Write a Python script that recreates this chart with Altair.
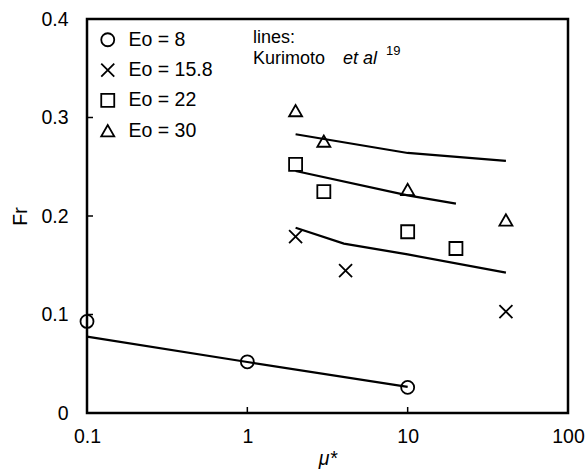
import altair as alt
import pandas as pd

FONT = "Liberation Sans"
FS = 19.5

series_names = ["Eo = 8", "Eo = 15.8", "Eo = 22", "Eo = 30"]
shape_range = ["circle", "M-1,-1L1,1M-1,1L1,-1", "square", "triangle-up"]

# measured data points
eo8_x = [0.1, 1, 10]
eo8_y = [0.093, 0.052, 0.026]
eo158_x = [2, 4.1, 41]
eo158_y = [0.179, 0.1445, 0.103]
eo22_x = [2, 3, 10, 20]
eo22_y = [0.2525, 0.2247, 0.184, 0.167]
eo30_x = [2, 3, 10, 41]
eo30_y = [0.307, 0.276, 0.227, 0.196]

# Kurimoto et al. lines
k8_x = [0.1, 1, 10]
k8_y = [0.0775, 0.0518, 0.0265]
k158_x = [2, 4, 10, 41]
k158_y = [0.188, 0.172, 0.161, 0.1425]
k22_x = [2, 10, 20]
k22_y = [0.2457, 0.221, 0.2125]
k30_x = [2, 10, 41]
k30_y = [0.283, 0.264, 0.256]

x_ticks = [0.1, 1, 10, 100]
y_ticks = [0, 0.1, 0.2, 0.3, 0.4]


def frame(xs, ys, name):
    return pd.DataFrame({"x": xs, "y": ys, "series": name})


points_df = pd.concat([
    frame(eo8_x, eo8_y, series_names[0]),
    frame(eo158_x, eo158_y, series_names[1]),
    frame(eo22_x, eo22_y, series_names[2]),
    frame(eo30_x, eo30_y, series_names[3]),
])
lines_df = pd.concat([
    frame(k8_x, k8_y, series_names[0]),
    frame(k158_x, k158_y, series_names[1]),
    frame(k22_x, k22_y, series_names[2]),
    frame(k30_x, k30_y, series_names[3]),
])

xscale = alt.Scale(type="log", domain=[0.1, 100])
yscale = alt.Scale(domain=[0, 0.4])

xaxis = alt.Axis(values=x_ticks, format="~g", title="μ*", titleFontStyle="italic",
                 labelPadding=14, titlePadding=4, labelFlush=False)
yaxis = alt.Axis(values=y_ticks, title="Fr", labelPadding=19, titlePadding=10,
                 labelFlush=False,
                 labelExpr="datum.value == 0 ? '0' : format(datum.value, '.1f')")

points = alt.Chart(points_df).mark_point(
    filled=False, color="black", strokeWidth=1.8, size=169, opacity=1
).encode(
    x=alt.X("x:Q", scale=xscale, axis=xaxis),
    y=alt.Y("y:Q", scale=yscale, axis=yaxis),
    shape=alt.Shape(
        "series:N",
        scale=alt.Scale(domain=series_names, range=shape_range),
        legend=alt.Legend(
            title=None, orient="none", legendX=11, legendY=11, padding=0,
            symbolSize=169, symbolStrokeColor="black", symbolFillColor="transparent",
            symbolStrokeWidth=1.8, symbolOpacity=1,
            labelFont=FONT, labelFontSize=FS, labelColor="black", labelOffset=11,
            rowPadding=9.3,
        ),
    ),
)

lines = alt.Chart(lines_df).mark_line(color="black", strokeWidth=2.2).encode(
    x=alt.X("x:Q", scale=xscale),
    y=alt.Y("y:Q", scale=yscale),
    detail="series:N",
)

ytick_rules = alt.Chart(pd.DataFrame({"y": y_ticks})).mark_rule(
    color="black", strokeWidth=1.5
).encode(y=alt.Y("y:Q", scale=yscale), x=alt.value(0), x2=alt.value(6))

xtick_rules = alt.Chart(pd.DataFrame({"x": x_ticks})).mark_rule(
    color="black", strokeWidth=1.5
).encode(x=alt.X("x:Q", scale=xscale), y=alt.value(394), y2=alt.value(388))

one = pd.DataFrame({"d": [0]})


def label(txt, x, y, size=18, style="normal"):
    return alt.Chart(one).mark_text(
        text=txt, align="left", baseline="alphabetic", font=FONT,
        fontSize=size, fontStyle=style, color="black"
    ).encode(x=alt.value(x), y=alt.value(y))


annotations = (
    label("lines:", 166, 24)
    + label("Kurimoto", 166, 44.5)
    + label("et al", 256, 44.5, style="italic")
    + label("19", 299, 36, size=13)
)

chart = alt.layer(lines, points, ytick_rules, xtick_rules, annotations).properties(
    width=481, height=394, autosize="none",
    padding={"left": 87, "top": 19, "right": 19, "bottom": 60},
).configure_axis(
    labelFont=FONT, labelFontSize=FS, labelColor="black",
    titleFont=FONT, titleFontSize=FS, titleColor="black", titleFontWeight="normal",
    ticks=False, domain=False, grid=False,
).configure_view(stroke="black", strokeWidth=2.5)

chart.save("out.html", embed_options={"renderer": "svg", "actions": False})
